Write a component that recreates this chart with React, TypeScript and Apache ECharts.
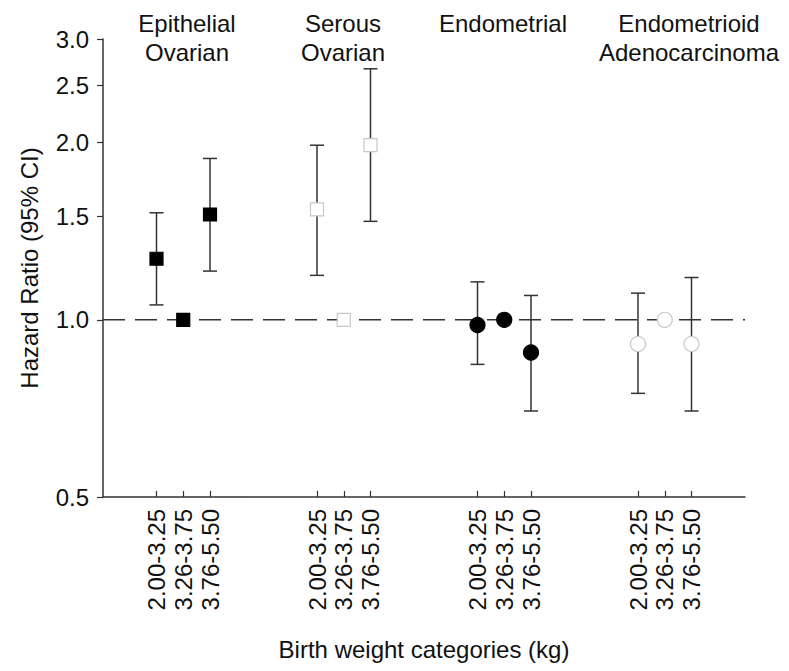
import React, { useEffect, useRef } from "react";
import * as echarts from "echarts";

const groupNames = ["Epithelial\nOvarian", "Serous\nOvarian", "Endometrial", "Endometrioid\nAdenocarcinoma"];
const categories = ["2.00-3.25", "3.26-3.75", "3.76-5.50"];
const yTicks = [0.5, 1.0, 1.5, 2.0, 2.5, 3.0];
const referenceValue = 1.0;

const hrEpithelial = [1.27, 1.0, 1.51];
const lowEpithelial = [1.06, null, 1.21];
const highEpithelial = [1.52, null, 1.88];

const hrSerous = [1.54, 1.0, 1.98];
const lowSerous = [1.19, null, 1.47];
const highSerous = [1.98, null, 2.67];

const hrEndometrial = [0.98, 1.0, 0.88];
const lowEndometrial = [0.84, null, 0.70];
const highEndometrial = [1.16, null, 1.10];

const hrEndometrioid = [0.91, 1.0, 0.91];
const lowEndometrioid = [0.75, null, 0.70];
const highEndometrioid = [1.11, null, 1.18];

const FONT = "'Liberation Sans', Arial, Helvetica, sans-serif";
const INK = "#111111";
const LINE = "#333333";
const FS = 24;

const slot = (gi: number, ci: number) => 2 + gi * 6 + ci;

const groupsData = [
  { hr: hrEpithelial, lo: lowEpithelial, hi: highEpithelial, symbol: "rect", fill: "#000", border: "#000", size: 13 },
  { hr: hrSerous, lo: lowSerous, hi: highSerous, symbol: "rect", fill: "#fff", border: "#c8c8c8", size: 13 },
  { hr: hrEndometrial, lo: lowEndometrial, hi: highEndometrial, symbol: "circle", fill: "#000", border: "#000", size: 15 },
  { hr: hrEndometrioid, lo: lowEndometrioid, hi: highEndometrioid, symbol: "circle", fill: "#fff", border: "#c8c8c8", size: 15 },
];

export default function App() {
  const ref = useRef<HTMLDivElement>(null);

  useEffect(() => {
    if (!ref.current) return;
    const chart = echarts.init(ref.current, null, { renderer: "svg" });

    const tickPositions: number[] = [];
    groupNames.forEach((_, gi) => categories.forEach((__, ci) => tickPositions.push(slot(gi, ci))));

    const errData: number[][] = [];
    groupsData.forEach((g, gi) => {
      g.hr.forEach((_, ci) => {
        const lo = g.lo[ci];
        const hi = g.hi[ci];
        if (lo != null && hi != null) errData.push([slot(gi, ci), Math.log(lo), Math.log(hi)]);
      });
    });

    const scatterSeries = groupsData.map((g, gi) => ({
      type: "scatter",
      symbol: g.symbol,
      symbolSize: g.size,
      z: 5,
      itemStyle: { color: g.fill, borderColor: g.border, borderWidth: 1.2, opacity: 1 },
      data: g.hr.map((v, ci) => [slot(gi, ci), Math.log(v)]),
    }));

    const titlePos = [187, 343, 503, 689];

    const option: any = {
      animation: false,
      textStyle: { fontFamily: FONT },
      grid: { left: 103, right: 44, top: 39, bottom: 174 },
      xAxis: {
        type: "value",
        min: 0,
        max: 24,
        name: "Birth weight categories (kg)",
        nameLocation: "middle",
        nameGap: 140,
        nameTextStyle: { fontSize: FS, color: INK, fontFamily: FONT },
        axisLine: { show: true, onZero: false, lineStyle: { color: LINE, width: 1.5 } },
        axisTick: { show: true, inside: true, length: 6, customValues: tickPositions, lineStyle: { color: LINE, width: 1.2 } },
        axisLabel: {
          show: true,
          rotate: 90,
          margin: 12,
          fontSize: FS,
          color: INK,
          fontFamily: FONT,
          customValues: tickPositions,
          formatter: (v: number) => {
            const idx = Math.round(v - 2) % 6;
            return categories[idx] ?? "";
          },
        },
        splitLine: { show: false },
      },
      yAxis: {
        type: "value",
        min: Math.log(0.5),
        max: Math.log(3.0),
        name: "Hazard Ratio (95% CI)",
        nameLocation: "middle",
        nameGap: 62,
        nameTextStyle: { fontSize: FS, color: INK, fontFamily: FONT },
        axisLine: { show: true, onZero: false, lineStyle: { color: LINE, width: 1.5 } },
        axisTick: { show: true, inside: false, length: 6, customValues: yTicks.map(Math.log), lineStyle: { color: LINE, width: 1.2 } },
        axisLabel: {
          show: true,
          margin: 14,
          fontSize: FS,
          color: INK,
          fontFamily: FONT,
          customValues: yTicks.map(Math.log),
          formatter: (v: number) => Math.exp(v).toFixed(1),
        },
        splitLine: { show: false },
      },
      series: [
        {
          type: "custom",
          z: 2,
          silent: true,
          data: [[0, 24, Math.log(referenceValue)]],
          renderItem: (params: any, api: any) => {
            const a = api.coord([api.value(0), api.value(2)]);
            const b = api.coord([api.value(1), api.value(2)]);
            return {
              type: "line",
              shape: { x1: a[0], y1: a[1], x2: b[0], y2: b[1] },
              style: { stroke: LINE, lineWidth: 1.6, lineDash: [22, 10], fill: null },
            };
          },
        },
        {
          type: "custom",
          z: 3,
          data: errData,
          renderItem: (params: any, api: any) => {
            const x = api.value(0);
            const lo = api.coord([x, api.value(1)]);
            const hi = api.coord([x, api.value(2)]);
            const half = 7;
            const style = { stroke: LINE, lineWidth: 1.5 };
            return {
              type: "group",
              children: [
                { type: "line", shape: { x1: lo[0], y1: lo[1], x2: hi[0], y2: hi[1] }, style },
                { type: "line", shape: { x1: hi[0] - half, y1: hi[1], x2: hi[0] + half, y2: hi[1] }, style },
                { type: "line", shape: { x1: lo[0] - half, y1: lo[1], x2: lo[0] + half, y2: lo[1] }, style },
              ],
            };
          },
        },
        ...scatterSeries,
      ],
      graphic: groupNames.map((name, gi) => ({
        type: "text",
        x: titlePos[gi],
        y: 9,
        style: {
          text: name,
          fontSize: FS,
          fontFamily: FONT,
          fill: INK,
          textAlign: "center",
          textVerticalAlign: "top",
          lineHeight: 29,
        },
      })),
    };

    chart.setOption(option);
    return () => chart.dispose();
  }, []);

  return <div ref={ref} style={{ position: "fixed", left: 0, top: 0, width: 789, height: 671, background: "#fff" }} />;
}
